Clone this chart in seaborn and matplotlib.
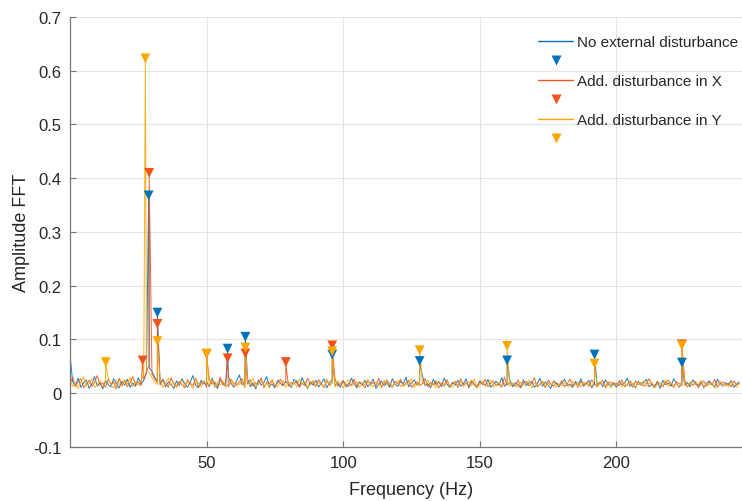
import numpy as np
import matplotlib
matplotlib.use("Agg")
import matplotlib.pyplot as plt
from matplotlib.lines import Line2D
import seaborn as sns

# noise floor of each spectrum, read at 1 Hz steps (0..245 Hz)
blue_noise = [
    0.072, 0.021, 0.014, 0.028, 0.011, 0.019, 0.025, 0.009, 0.017, 0.031, 0.013, 0.020, 0.008, 0.024, 0.016, 0.012, 0.027, 0.018, 0.010, 0.022,
    0.015, 0.026, 0.011, 0.019, 0.013, 0.029, 0.017, 0.024, 0.038, 0.047, 0.041, 0.030, 0.022, 0.018, 0.026, 0.012, 0.021, 0.016, 0.009, 0.023,
    0.014, 0.027, 0.018, 0.011, 0.020, 0.033, 0.015, 0.010, 0.024, 0.017, 0.021, 0.012, 0.028, 0.016, 0.009, 0.025, 0.019, 0.013, 0.030, 0.018,
    0.011, 0.023, 0.034, 0.016, 0.021, 0.027, 0.012, 0.019, 0.008, 0.025, 0.015, 0.020, 0.031, 0.013, 0.017, 0.010, 0.024, 0.018, 0.014, 0.022,
    0.016, 0.011, 0.026, 0.019, 0.013, 0.029, 0.017, 0.009, 0.021, 0.015, 0.024, 0.012, 0.018, 0.027, 0.010, 0.020, 0.025, 0.014, 0.019, 0.011,
    0.022, 0.016, 0.013, 0.028, 0.018, 0.010, 0.021, 0.015, 0.024, 0.012, 0.019, 0.026, 0.009, 0.017, 0.023, 0.014, 0.020, 0.011, 0.027, 0.016,
    0.013, 0.022, 0.018, 0.030, 0.012, 0.019, 0.025, 0.015, 0.021, 0.033, 0.014, 0.018, 0.010, 0.026, 0.016, 0.022, 0.012, 0.028, 0.017, 0.011,
    0.020, 0.015, 0.024, 0.013, 0.018, 0.027, 0.010, 0.021, 0.016, 0.012, 0.023, 0.019, 0.014, 0.026, 0.011, 0.017, 0.022, 0.015, 0.029, 0.013,
    0.018, 0.024, 0.012, 0.020, 0.016, 0.010, 0.025, 0.014, 0.019, 0.022, 0.011, 0.017, 0.028, 0.013, 0.021, 0.015, 0.009, 0.023, 0.018, 0.012,
    0.020, 0.026, 0.014, 0.017, 0.011, 0.022, 0.016, 0.027, 0.013, 0.019, 0.024, 0.010, 0.018, 0.015, 0.021, 0.012, 0.025, 0.017, 0.014, 0.020,
    0.011, 0.023, 0.016, 0.019, 0.028, 0.013, 0.018, 0.010, 0.022, 0.015, 0.020, 0.026, 0.012, 0.017, 0.014, 0.021, 0.009, 0.024, 0.016, 0.019,
    0.013, 0.027, 0.018, 0.011, 0.022, 0.015, 0.020, 0.012, 0.025, 0.017, 0.014, 0.021, 0.010, 0.019, 0.023, 0.016, 0.012, 0.026, 0.018, 0.013,
    0.020, 0.015, 0.024, 0.011, 0.017, 0.021,
]
red_noise = [
    0.018, 0.030, 0.012, 0.022, 0.027, 0.010, 0.016, 0.024, 0.013, 0.020, 0.033, 0.015, 0.019, 0.011, 0.026, 0.017, 0.021, 0.008, 0.028, 0.014,
    0.023, 0.012, 0.019, 0.031, 0.016, 0.021, 0.014, 0.026, 0.040, 0.052, 0.036, 0.027, 0.020, 0.015, 0.024, 0.018, 0.011, 0.029, 0.017, 0.013,
    0.022, 0.016, 0.010, 0.025, 0.019, 0.014, 0.028, 0.012, 0.018, 0.023, 0.011, 0.026, 0.017, 0.021, 0.013, 0.030, 0.015, 0.020, 0.012, 0.024,
    0.019, 0.014, 0.022, 0.027, 0.011, 0.017, 0.025, 0.013, 0.020, 0.016, 0.029, 0.010, 0.021, 0.018, 0.024, 0.012, 0.019, 0.026, 0.015, 0.022,
    0.013, 0.020, 0.017, 0.024, 0.011, 0.019, 0.014, 0.028, 0.016, 0.021, 0.012, 0.025, 0.018, 0.010, 0.023, 0.015, 0.020, 0.027, 0.013, 0.018,
    0.024, 0.011, 0.019, 0.015, 0.026, 0.013, 0.021, 0.017, 0.010, 0.023, 0.016, 0.020, 0.014, 0.028, 0.012, 0.018, 0.025, 0.015, 0.011, 0.022,
    0.017, 0.026, 0.013, 0.019, 0.024, 0.011, 0.016, 0.021, 0.014, 0.018, 0.027, 0.012, 0.020, 0.015, 0.023, 0.010, 0.019, 0.016, 0.025, 0.013,
    0.018, 0.022, 0.011, 0.027, 0.015, 0.020, 0.013, 0.024, 0.017, 0.010, 0.021, 0.016, 0.026, 0.012, 0.019, 0.023, 0.014, 0.018, 0.011, 0.030,
    0.015, 0.020, 0.017, 0.013, 0.025, 0.011, 0.019, 0.022, 0.014, 0.018, 0.029, 0.012, 0.016, 0.021, 0.010, 0.024, 0.017, 0.013, 0.020, 0.015,
    0.023, 0.012, 0.018, 0.026, 0.014, 0.019, 0.011, 0.022, 0.016, 0.020, 0.013, 0.025, 0.017, 0.012, 0.019, 0.024, 0.010, 0.018, 0.021, 0.015,
    0.019, 0.014, 0.025, 0.012, 0.017, 0.021, 0.011, 0.023, 0.016, 0.020, 0.013, 0.018, 0.027, 0.015, 0.010, 0.022, 0.017, 0.012, 0.020, 0.024,
    0.016, 0.011, 0.021, 0.018, 0.014, 0.025, 0.012, 0.019, 0.015, 0.022, 0.010, 0.017, 0.023, 0.013, 0.020, 0.016, 0.026, 0.011, 0.018, 0.021,
    0.014, 0.019, 0.012, 0.023, 0.016, 0.018,
]
yellow_noise = [
    0.025, 0.013, 0.019, 0.009, 0.022, 0.031, 0.014, 0.018, 0.027, 0.011, 0.016, 0.024, 0.012, 0.020, 0.029, 0.015, 0.010, 0.023, 0.017, 0.013,
    0.026, 0.017, 0.030, 0.012, 0.021, 0.015, 0.024, 0.033, 0.045, 0.038, 0.029, 0.021, 0.016, 0.025, 0.011, 0.019, 0.028, 0.014, 0.020, 0.010,
    0.018, 0.024, 0.013, 0.021, 0.016, 0.009, 0.026, 0.019, 0.012, 0.022, 0.017, 0.014, 0.025, 0.010, 0.020, 0.015, 0.023, 0.011, 0.018, 0.027,
    0.013, 0.019, 0.016, 0.024, 0.010, 0.021, 0.015, 0.028, 0.012, 0.018, 0.022, 0.014, 0.019, 0.009, 0.025, 0.016, 0.012, 0.020, 0.023, 0.011,
    0.021, 0.015, 0.019, 0.012, 0.026, 0.017, 0.022, 0.010, 0.018, 0.024, 0.013, 0.020, 0.016, 0.011, 0.027, 0.014, 0.019, 0.012, 0.023, 0.017,
    0.010, 0.020, 0.025, 0.013, 0.017, 0.022, 0.011, 0.019, 0.016, 0.026, 0.014, 0.012, 0.021, 0.018, 0.010, 0.024, 0.015, 0.020, 0.013, 0.019,
    0.023, 0.012, 0.017, 0.015, 0.021, 0.027, 0.011, 0.018, 0.014, 0.020, 0.016, 0.024, 0.013, 0.019, 0.010, 0.022, 0.017, 0.012, 0.021, 0.015,
    0.011, 0.019, 0.016, 0.023, 0.012, 0.018, 0.021, 0.014, 0.026, 0.010, 0.017, 0.022, 0.013, 0.019, 0.024, 0.011, 0.016, 0.020, 0.014, 0.018,
    0.022, 0.013, 0.019, 0.016, 0.011, 0.021, 0.015, 0.018, 0.024, 0.010, 0.020, 0.014, 0.017, 0.023, 0.012, 0.019, 0.015, 0.021, 0.011, 0.017,
    0.014, 0.020, 0.017, 0.011, 0.023, 0.015, 0.019, 0.012, 0.021, 0.016, 0.018, 0.013, 0.024, 0.011, 0.020, 0.017, 0.014, 0.022, 0.010, 0.018,
    0.016, 0.021, 0.012, 0.019, 0.014, 0.024, 0.017, 0.011, 0.020, 0.015, 0.023, 0.013, 0.018, 0.021, 0.010, 0.016, 0.019, 0.014, 0.025, 0.012,
    0.020, 0.015, 0.018, 0.012, 0.022, 0.017, 0.011, 0.021, 0.014, 0.019, 0.016, 0.024, 0.012, 0.018, 0.015, 0.020, 0.010, 0.017, 0.022, 0.014,
    0.018, 0.013, 0.021, 0.016, 0.011, 0.019,
]

# detected peaks (Hz, amplitude)
blue_peak_hz = [28.8, 32.0, 57.7, 64.2, 96.0, 128.0, 160.0, 192.0, 224.0]
blue_peak_amp = [0.365, 0.147, 0.080, 0.102, 0.069, 0.057, 0.058, 0.069, 0.054]
red_peak_hz = [26.6, 29.0, 32.0, 50.0, 57.7, 64.2, 79.0, 96.0, 224.0]
red_peak_amp = [0.058, 0.407, 0.126, 0.070, 0.062, 0.071, 0.055, 0.086, 0.088]
yellow_peak_hz = [13.1, 27.6, 32.0, 50.0, 64.2, 96.0, 128.0, 160.0, 192.0, 224.0]
yellow_peak_amp = [0.055, 0.620, 0.094, 0.071, 0.082, 0.075, 0.077, 0.085, 0.052, 0.086]

labels = ["No external disturbance", "Add. disturbance in X", "Add. disturbance in Y"]
colors = ["#0072BD", "#F0531C", "#FFA700"]

sns.set_theme(style="whitegrid")
plt.rcParams["font.family"] = ["Liberation Sans", "DejaVu Sans"]

fig = plt.figure(figsize=(7.42, 5.02), dpi=100)
ax = fig.add_axes([0.0943, 0.1076, 0.9205, 0.8566])

series = [
    (blue_noise, blue_peak_hz, blue_peak_amp),
    (red_noise, red_peak_hz, red_peak_amp),
    (yellow_noise, yellow_peak_hz, yellow_peak_amp),
]
for (noise, phz, pamp), col in zip(series, colors):
    hz = np.concatenate([np.arange(len(noise)), phz])
    amp = np.concatenate([noise, pamp])
    order = np.argsort(hz, kind="stable")
    sns.lineplot(x=hz[order], y=amp[order], ax=ax, color=col, lw=0.7,
                 sort=False, estimator=None, alpha=0.9)

for (noise, phz, pamp), col in zip(series, colors):
    sns.scatterplot(x=phz, y=np.array(pamp) + 0.003, ax=ax, marker="v",
                    color=col, s=50, edgecolor="none", zorder=5)

ax.set_xlim(0, 250)
ax.set_ylim(-0.1, 0.7)
ax.set_xticks([50, 100, 150, 200])
ax.set_yticks(np.arange(-0.1, 0.71, 0.1))
ax.set_yticklabels(["-0.1", "0", "0.1", "0.2", "0.3", "0.4", "0.5", "0.6", "0.7"])
ax.grid(True, color="#e4e4e4", lw=0.8)
ax.set_facecolor("white")
for s in ["top", "right"]:
    ax.spines[s].set_visible(False)
for s in ["left", "bottom"]:
    ax.spines[s].set_color("#777777")
    ax.spines[s].set_linewidth(0.9)
ax.tick_params(direction="in", length=4, width=0.8, color="#777777",
               labelsize=12, labelcolor="#262626", pad=6, left=True, bottom=True)
ax.set_xlabel("Frequency (Hz)", fontsize=13, color="#262626", labelpad=8)
ax.set_ylabel("Amplitude FFT", fontsize=13, color="#262626", labelpad=2)

handles, names = [], []
for lab, col in zip(labels, colors):
    handles.append(Line2D([], [], color=col, lw=1.0))
    names.append(lab)
    handles.append(Line2D([], [], color=col, marker="v", ls="none", markersize=7, markeredgecolor="none"))
    names.append(" ")
leg = ax.legend(handles, names, loc="upper left", bbox_to_anchor=(0.717, 0.94),
                bbox_transform=fig.transFigure, frameon=False, fontsize=11,
                handlelength=2.3, handletextpad=0.25, labelspacing=0.36,
                borderaxespad=0)

fig.savefig("out.png", dpi=100)
